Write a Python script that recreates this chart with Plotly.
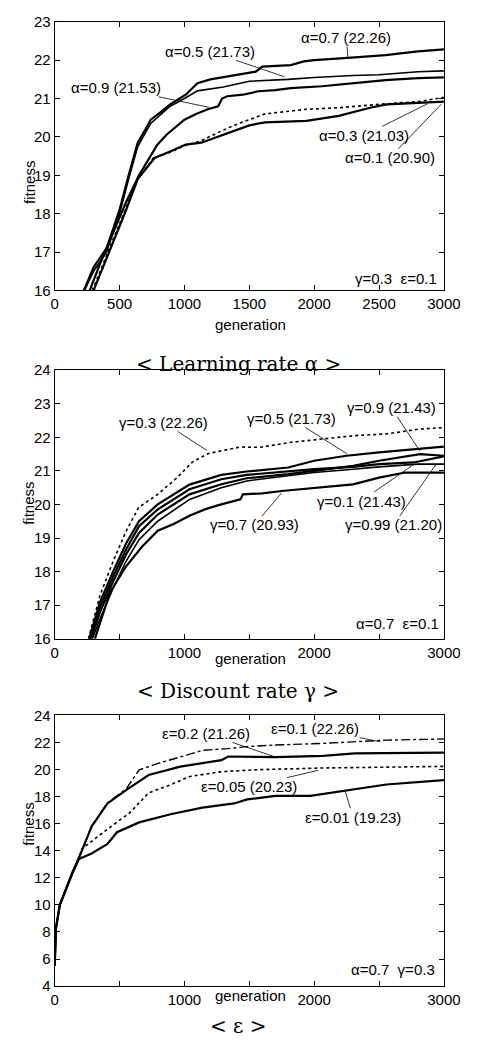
import plotly.graph_objects as go

# ---------------- Panel 1: learning rate alpha ----------------
gen_a07 = [225, 300, 400, 500, 570, 640, 700, 740, 800, 890, 1010, 1100, 1200, 1330, 1450, 1550, 1600, 1700, 1820, 1920, 2000, 2260, 2550, 2800, 3000]
fit_a07 = [16.0, 16.6, 17.1, 18.1, 19.0, 19.85, 20.2, 20.45, 20.6, 20.85, 21.1, 21.4, 21.5, 21.57, 21.65, 21.7, 21.83, 21.85, 21.87, 21.97, 22.0, 22.06, 22.13, 22.23, 22.28]
gen_a05 = [230, 300, 400, 500, 570, 640, 740, 890, 1000, 1100, 1300, 1500, 1800, 2000, 2300, 2500, 2800, 3000]
fit_a05 = [16.0, 16.5, 17.0, 18.0, 18.9, 19.75, 20.35, 20.8, 21.0, 21.2, 21.3, 21.45, 21.5, 21.55, 21.6, 21.62, 21.7, 21.72]
gen_a09 = [270, 350, 450, 550, 650, 720, 790, 860, 940, 1000, 1090, 1180, 1260, 1290, 1330, 1450, 1570, 1700, 1820, 2060, 2310, 2550, 2800, 3000]
fit_a09 = [16.0, 16.7, 17.5, 18.3, 19.0, 19.4, 19.79, 20.05, 20.28, 20.45, 20.6, 20.72, 20.8, 21.0, 21.06, 21.1, 21.19, 21.22, 21.27, 21.32, 21.4, 21.48, 21.53, 21.55]
gen_a03 = [290, 350, 445, 545, 640, 760, 890, 1010, 1130, 1250, 1380, 1500, 1620, 1940, 2190, 2500, 2800, 3000]
fit_a03 = [16.0, 16.5, 17.25, 18.1, 18.9, 19.45, 19.6, 19.78, 19.9, 20.1, 20.3, 20.45, 20.6, 20.72, 20.76, 20.85, 20.92, 21.03]
gen_a01 = [300, 360, 445, 545, 640, 770, 890, 1010, 1130, 1250, 1380, 1500, 1620, 1940, 2190, 2430, 2560, 2800, 3000]
fit_a01 = [16.0, 16.5, 17.2, 18.05, 18.9, 19.45, 19.62, 19.8, 19.85, 20.0, 20.15, 20.3, 20.38, 20.42, 20.55, 20.76, 20.85, 20.88, 20.92]

# ---------------- Panel 2: discount rate gamma ----------------
gen_g03 = [260, 350, 450, 550, 647, 794, 941, 1064, 1186, 1432, 1577, 1822, 2068, 2313, 2558, 2803, 3000]
fit_g03 = [16.0, 17.3, 18.3, 19.2, 19.91, 20.3, 20.79, 21.27, 21.52, 21.71, 21.7, 21.85, 21.95, 22.05, 22.1, 22.24, 22.29]
gen_g05 = [265, 350, 450, 549, 650, 794, 1039, 1284, 1480, 1800, 2000, 2250, 2500, 2800, 3000]
fit_g05 = [16.0, 17.1, 18.0, 18.83, 19.5, 20.0, 20.59, 20.88, 20.98, 21.1, 21.3, 21.45, 21.55, 21.65, 21.72]
gen_g01 = [270, 350, 450, 549, 650, 794, 1039, 1284, 1480, 1800, 2000, 2300, 2500, 2767, 3000]
fit_g01 = [16.0, 16.95, 17.85, 18.65, 19.35, 19.85, 20.45, 20.75, 20.88, 20.98, 21.05, 21.12, 21.2, 21.25, 21.43]
gen_g09 = [280, 350, 450, 549, 650, 794, 1039, 1284, 1480, 1800, 2000, 2300, 2500, 2816, 3000]
fit_g09 = [16.0, 16.8, 17.7, 18.5, 19.15, 19.7, 20.3, 20.6, 20.78, 20.9, 21.0, 21.15, 21.3, 21.5, 21.45]
gen_g099 = [290, 350, 450, 549, 650, 794, 1039, 1284, 1480, 1800, 2000, 2300, 2500, 2800, 3000]
fit_g099 = [16.0, 16.6, 17.5, 18.3, 18.95, 19.5, 20.15, 20.5, 20.7, 20.85, 20.95, 21.05, 21.12, 21.2, 21.2]
gen_g07 = [310, 426, 549, 671, 794, 917, 1039, 1162, 1284, 1432, 1450, 1600, 1749, 2000, 2300, 2500, 2700, 3000]
fit_g07 = [16.0, 17.37, 18.15, 18.73, 19.22, 19.42, 19.66, 19.86, 20.0, 20.15, 20.3, 20.33, 20.4, 20.5, 20.6, 20.8, 20.95, 20.95]

# ---------------- Panel 3: epsilon ----------------
gen_e01 = [0, 10, 40, 90, 140, 188, 285, 407, 553, 651, 797, 1017, 1139, 1332, 1483, 1702, 2068, 2556, 3000]
fit_e01 = [5.5, 8.3, 10.0, 11.25, 12.5, 13.5, 15.85, 17.55, 18.6, 19.98, 20.46, 21.07, 21.43, 21.55, 21.7, 21.82, 21.94, 22.18, 22.26]
gen_e02 = [0, 10, 40, 90, 140, 188, 285, 407, 553, 724, 968, 1285, 1337, 1702, 2068, 2312, 2700, 3000]
fit_e02 = [5.5, 8.3, 10.0, 11.25, 12.5, 13.5, 15.8, 17.5, 18.5, 19.6, 20.22, 20.7, 20.97, 20.92, 21.02, 21.2, 21.25, 21.26]
gen_e005 = [0, 10, 40, 90, 140, 212, 407, 578, 724, 895, 1041, 1285, 1580, 2068, 3000]
fit_e005 = [5.5, 8.3, 10.0, 11.25, 12.4, 14.16, 15.6, 16.8, 18.28, 18.89, 19.49, 19.85, 20.0, 20.12, 20.24]
gen_e001 = [0, 10, 40, 90, 140, 188, 285, 407, 480, 651, 893, 1139, 1383, 1483, 1702, 1970, 2263, 2556, 3000]
fit_e001 = [5.5, 8.3, 10.0, 11.2, 12.4, 13.4, 13.8, 14.5, 15.37, 16.1, 16.7, 17.19, 17.5, 17.8, 18.06, 18.06, 18.5, 18.9, 19.22]

# label text, leader tip (gen, fitness), text position (gen, fitness)
labels_a = [("α=0.7 (22.26)", 2260, 22.06, 2248, 22.59),
            ("α=0.5 (21.73)", 1769, 21.57, 1194, 22.23),
            ("α=0.9 (21.53)", 1191, 20.77, 472, 21.28),
            ("α=0.3 (21.03)", 2877, 20.87, 2385, 20.04),
            ("α=0.1 (20.90)", 2980, 20.85, 2582, 19.46)]
labels_g = [("γ=0.3 (22.26)", 1172, 21.61, 841, 22.44),
            ("γ=0.5 (21.73)", 2252, 21.51, 1822, 22.56),
            ("γ=0.9 (21.43)", 2816, 21.58, 2595, 22.88),
            ("γ=0.1 (21.43)", 2767, 21.19, 2362, 20.10),
            ("γ=0.99 (21.20)", 2939, 21.19, 2612, 19.39),
            ("γ=0.7 (20.93)", 1749, 20.34, 1540, 19.39)]
labels_e = [("ε=0.2 (21.26)", 1690, 20.97, 1166, 22.67),
            ("ε=0.1 (22.26)", 2507, 22.06, 2007, 23.03),
            ("ε=0.05 (20.23)", 2031, 19.95, 1495, 18.74),
            ("ε=0.01 (19.23)", 2239, 18.42, 2300, 16.48)]
params_text = ["γ=0.3  ε=0.1", "α=0.7  ε=0.1", "α=0.7  γ=0.3"]
params_pos = [(2960, 16.3), (2976, 16.44), (2946, 5.26)]
panel_titles = ["< Learning rate α >", "< Discount rate γ >", "< ε >"]

W, H = 481, 1061
SANS = "Liberation Sans, Arial, sans-serif"
SERIF = "DejaVu Serif, serif"

fig = go.Figure()

def add_line(x, y, ax_idx, dash="solid", width=2.2):
    xa = "x" if ax_idx == 1 else f"x{ax_idx}"
    ya = "y" if ax_idx == 1 else f"y{ax_idx}"
    fig.add_trace(go.Scatter(x=x, y=y, mode="lines", xaxis=xa, yaxis=ya,
                             line=dict(color="black", width=width, dash=dash),
                             showlegend=False, hoverinfo="skip"))

add_line(gen_a07, fit_a07, 1)
add_line(gen_a05, fit_a05, 1, width=1.6)
add_line(gen_a09, fit_a09, 1)
add_line(gen_a03, fit_a03, 1, dash="dot", width=1.6)
add_line(gen_a01, fit_a01, 1)

add_line(gen_g03, fit_g03, 2, dash="dot", width=1.6)
add_line(gen_g05, fit_g05, 2)
add_line(gen_g01, fit_g01, 2)
add_line(gen_g09, fit_g09, 2)
add_line(gen_g099, fit_g099, 2, width=1.6)
add_line(gen_g07, fit_g07, 2)

add_line(gen_e01, fit_e01, 3, dash="dashdot", width=1.4)
add_line(gen_e02, fit_e02, 3)
add_line(gen_e005, fit_e005, 3, dash="dot", width=1.6)
add_line(gen_e001, fit_e001, 3)

def px(sx):
    return sx / W

def py(sy):
    return 1 - sy / H

px_left, px_right = 53, 460
panels_px = [(13, 286), (367, 640), (718, 993)]
yranges = [[16, 23], [16, 24], [4, 24]]
ydticks = [1, 1, 2]
gen_lab_y = [310, 660, 1013]
fit_lab_y = [152, 502, 852]
title_y = [347, 693, 1048]

axis_common = dict(showline=True, linecolor="black", linewidth=1, mirror="ticks",
                   ticks="inside", ticklen=5, tickcolor="black", showgrid=False,
                   zeroline=False, tickfont=dict(family=SANS, size=15, color="black"))

xtv = [0, 500, 1000, 1500, 2000, 2500, 3000]
xt_full = ["0", "500", "1000", "1500", "2000", "2500", "3000"]
xt_half = ["0", "", "1000", "", "2000", "", "3000"]

layout = {}
annotations = []
for i in range(3):
    top, bot = panels_px[i]
    xn = "xaxis" if i == 0 else f"xaxis{i+1}"
    yn = "yaxis" if i == 0 else f"yaxis{i+1}"
    yref = "y" if i == 0 else f"y{i+1}"
    xref = "x" if i == 0 else f"x{i+1}"
    layout[xn] = dict(axis_common, domain=[px(px_left), px(px_right)], range=[0, 3000],
                      tickvals=xtv, ticktext=xt_full if i == 0 else xt_half,
                      anchor=yref)
    layout[yn] = dict(axis_common, domain=[py(bot), py(top)], range=yranges[i],
                      dtick=ydticks[i], tick0=0, anchor=xref)
    annotations.append(dict(text="generation", xref="paper", yref="paper",
                            x=px(258), y=py(gen_lab_y[i]), showarrow=False,
                            font=dict(family=SANS, size=15, color="black")))
    annotations.append(dict(text="fitness", xref="paper", yref="paper",
                            x=px(15), y=py(fit_lab_y[i]), showarrow=False, textangle=-90,
                            font=dict(family=SANS, size=15, color="black")))
    annotations.append(dict(text=panel_titles[i], xref="paper", yref="paper",
                            x=px(245), y=py(title_y[i]), showarrow=False,
                            font=dict(family=SERIF, size=20, color="black")))
    annotations.append(dict(text=params_text[i], xref=xref, yref=yref,
                            x=params_pos[i][0], y=params_pos[i][1], xanchor="right",
                            showarrow=False, font=dict(family=SANS, size=15, color="black")))

for i, labs in enumerate([labels_a, labels_g, labels_e]):
    xref = "x" if i == 0 else f"x{i+1}"
    yref = "y" if i == 0 else f"y{i+1}"
    for txt, tx, ty, lx, ly in labs:
        annotations.append(dict(text=txt, x=tx, y=ty, ax=lx, ay=ly, xref=xref, yref=yref,
                                axref=xref, ayref=yref, showarrow=True, arrowhead=0,
                                arrowwidth=0.8, arrowcolor="black", standoff=0,
                                bgcolor="rgba(0,0,0,0)", borderpad=0,
                                font=dict(family=SANS, size=15, color="black")))

fig.update_layout(width=W, height=H, margin=dict(l=0, r=0, t=0, b=0),
                  paper_bgcolor="white", plot_bgcolor="white",
                  annotations=annotations, **layout)

# pin the plot to the window's top-left corner so the page is exactly the window size
pin_js = ("document.body.style.margin='0';"
          "document.documentElement.style.overflow='hidden';"
          "var d=document.getElementById('{plot_id}');"
          "d.style.position='fixed';d.style.left='0px';d.style.top='0px';")

fig.write_html("out.html", post_script=pin_js,
               config={"displayModeBar": False, "staticPlot": True})
